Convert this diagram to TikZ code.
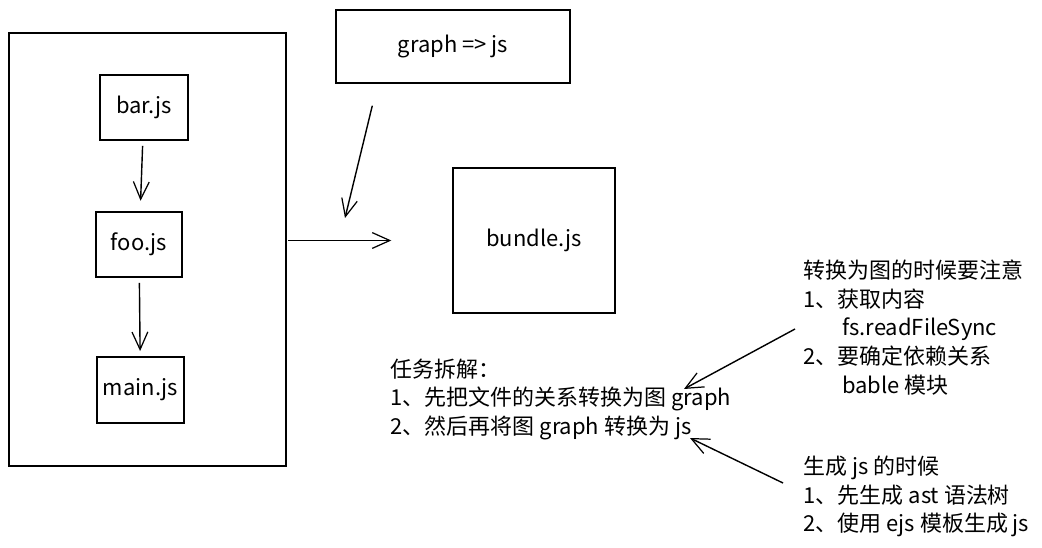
\documentclass[tikz,border=0pt]{standalone}
\usepackage{fontspec}
\setmainfont{Noto Sans CJK SC}
\usetikzlibrary{arrows.meta}
\begin{document}
\begin{tikzpicture}[x=0.2mm, y=-0.2mm, line width=0.8pt,
    filebox/.style={draw, rectangle, inner sep=0pt, font=\fontsize{12.5}{15}\selectfont},
    flow/.style={-{Straight Barb[length=10pt, width=9pt, line width=0.7pt]}},
    note/.style={anchor=north west, align=left, inner sep=0pt, font=\fontsize{12.5}{16.4}\selectfont}]
    \fill[white] (0,0) rectangle (1042,548);
    \useasboundingbox (0,0) rectangle (1042,548);

    % Source files in the project
    \node[filebox, minimum width=55.4mm, minimum height=86.6mm] (src) at (147.5,249.5) {};
    \node[filebox, minimum width=17.6mm, minimum height=13mm] (bar) at (144,107.5) {bar.js};
    \node[filebox, minimum width=17.2mm, minimum height=13mm] (foo) at (139,244.5) {foo.js};
    \node[filebox, minimum width=17.4mm, minimum height=13.2mm] (main) at (140.5,390) {main.js};

    % Bundling steps
    \node[filebox, minimum width=46.8mm, minimum height=14.6mm] (graph) at (453,46.5) {graph => js};
    \node[filebox, minimum width=32.4mm, minimum height=29mm] (bundle) at (534,240.5) {bundle.js};
    \coordinate (merge) at (345,218);

    % Dependency arrows
    \draw[flow, shorten <=3pt, shorten >=6pt] (bar) -- (foo);
    \draw[flow, shorten <=3pt, shorten >=3pt] (foo) -- (main);
    \draw[flow] ([shift={(37,22)}]graph.south west) -- (merge);
    \draw[flow, shorten <=1pt, shorten >=12.2mm] (src.east |- bundle) -- (bundle);

    % Notes
    \node[note] (task) at (390,358) {任务拆解：\\
        1、先把文件的关系转换为图 graph\\
        2、然后再将图 graph 转换为 js};
    \node[note] (tograph) at (803,259) {转换为图的时候要注意\\
        1、获取内容\\
        \hspace*{22pt}fs.readFileSync\\
        2、要确定依赖关系\\
        \hspace*{22pt}bable 模块};
    \node[note] (tojs) at (803,455) {生成 js 的时候\\
        1、先生成 ast 语法树\\
        2、使用 ejs 模板生成 js};

    % Note arrows
    \coordinate (n1) at (795,329);
    \coordinate (t1) at (684,389);
    \coordinate (n2) at (783,483);
    \coordinate (t2) at (690,438);
    \draw[flow] (n1) -- (t1);
    \draw[flow] (n2) -- (t2);
\end{tikzpicture}
\end{document}
